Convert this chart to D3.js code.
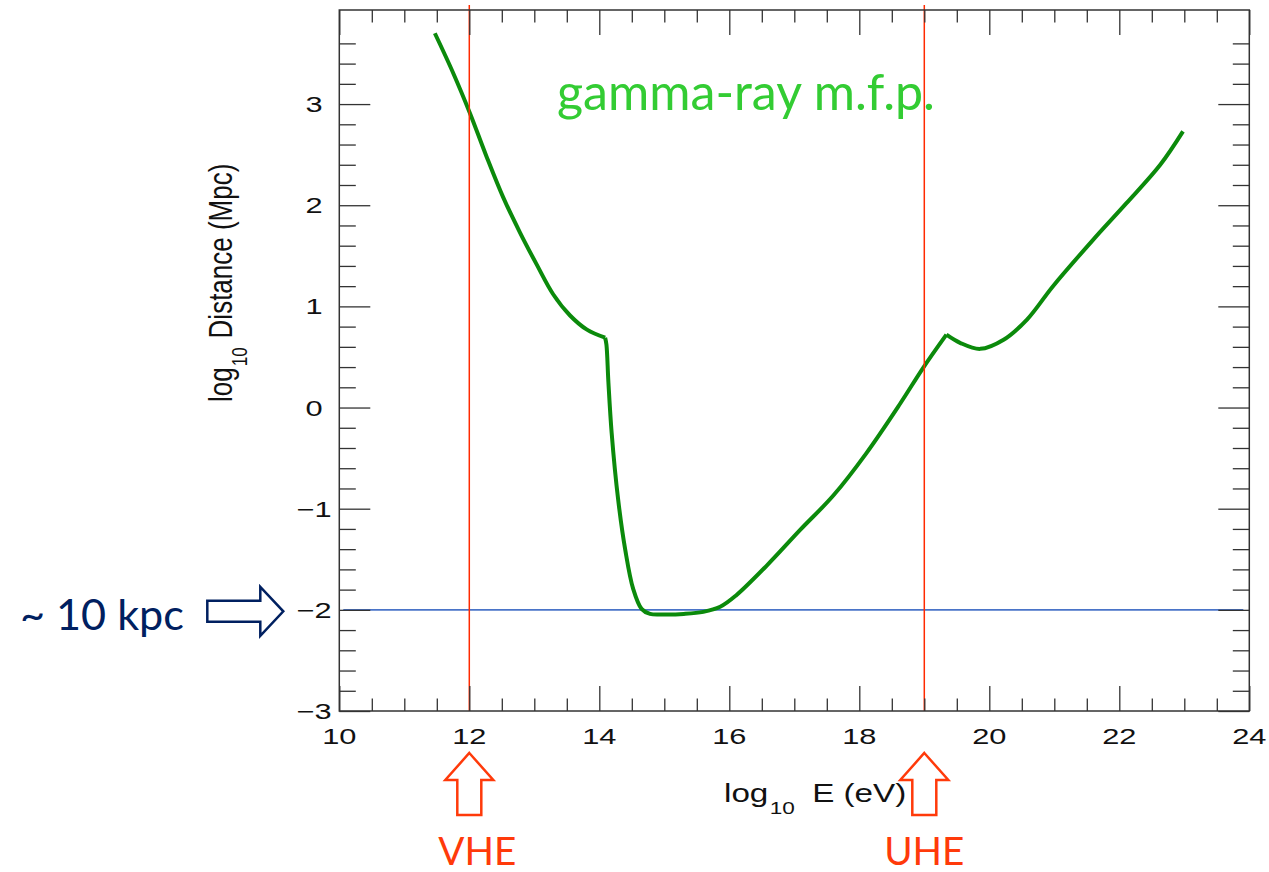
<!DOCTYPE html>
<html><head><meta charset="utf-8">
<script src="https://cdn.jsdelivr.net/npm/d3@7"></script>
<style>body{margin:0;background:#fff}svg{display:block}</style>
</head><body>
<svg id="c" width="1269" height="872"></svg>
<script>
// ---- data ----
const seg1E = [11.47, 11.75, 12.01, 12.26, 12.52, 12.78, 13.04, 13.29, 13.55, 13.81, 14.09];
const seg1D = [3.70, 3.31, 2.91, 2.49, 2.08, 1.73, 1.41, 1.12, 0.91, 0.77, 0.69];
const seg2E = [14.09, 14.11, 14.14, 14.19, 14.29, 14.40, 14.52, 14.65, 14.78, 15.00, 15.30, 15.60, 15.86, 16.10, 16.58, 17.09, 17.60, 18.11, 18.63, 18.98, 19.34];
const seg2D = [0.69, 0.62, 0.25, -0.25, -0.91, -1.41, -1.79, -1.99, -2.04, -2.045, -2.04, -2.02, -1.97, -1.86, -1.56, -1.21, -0.87, -0.45, 0.04, 0.39, 0.72];
const seg3E = [19.34, 19.55, 19.86, 20.22, 20.58, 20.98, 21.60, 22.11, 22.63, 22.98];
const seg3D = [0.72, 0.64, 0.58, 0.67, 0.87, 1.20, 1.66, 2.02, 2.40, 2.73];
const xMajor = [10, 12, 14, 16, 18, 20, 22, 24];
const xTickLabels = ["10", "12", "14", "16", "18", "20", "22", "24"];
const yMajor = [-3, -2, -1, 0, 1, 2, 3];
const yTickLabels = ["\u22123", "\u22122", "\u22121", "0", "1", "2", "3"];
const vLines = [12, 19];
const vLineLabels = ["VHE", "UHE"];
const hLine = -2;
const hLineLabel = "~ 10 kpc";
const titleText = "gamma-ray m.f.p.";

const xMinor = d3.range(10.5, 24, 0.5).filter(v => v % 2 !== 0);
const yMinor = d3.range(-2.8, 3.7, 0.2).map(v => +v.toFixed(1)).filter(v => Math.abs(v - Math.round(v)) > 1e-6);

// ---- layout ----
const svg = d3.select("#c");
const L = 339.3, R = 1249.3, T = 10, B = 711;
const x = d3.scaleLinear([10, 24], [L, R]);
const y = d3.scaleLinear([-3, 3.93], [B, T]);
const axisFont = "'Liberation Sans', Arial, sans-serif";
const calFont = "Lato, 'Open Sans', sans-serif";

// horizontal reference line
svg.append("line")
  .attr("x1", L + 4).attr("x2", R - 6)
  .attr("y1", y(hLine)).attr("y2", y(hLine))
  .attr("stroke", "#4a74c8").attr("stroke-width", 1.6);

// curve
const line = d3.line().x(d => x(d[0])).y(d => y(d[1])).curve(d3.curveCatmullRom.alpha(0.5));
[[seg1E, seg1D], [seg2E, seg2D], [seg3E, seg3D]].forEach(([E, D]) => {
  svg.append("path")
    .attr("d", line(E.map((e, i) => [e, D[i]])))
    .attr("fill", "none").attr("stroke", "#0b8a0b")
    .attr("stroke-width", 4).attr("stroke-linejoin", "round").attr("stroke-linecap", "butt");
});

// vertical red lines
svg.selectAll(".vl").data(vLines).enter().append("line")
  .attr("x1", d => x(d)).attr("x2", d => x(d))
  .attr("y1", 5).attr("y2", B)
  .attr("stroke", "#ff2a00").attr("stroke-width", 1.5);

// frame
svg.append("rect").attr("x", L).attr("y", T).attr("width", R - L).attr("height", B - T)
  .attr("fill", "none").attr("stroke", "#333").attr("stroke-width", 1.5);

// ticks (inward, via d3 axes)
function axisG(gen, tx, ty) {
  const g = svg.append("g").attr("transform", `translate(${tx},${ty})`).call(gen);
  g.select(".domain").remove();
  g.selectAll(".tick line").attr("stroke", "#333").attr("stroke-width", 1.3);
  g.selectAll(".tick text").remove();
  return g;
}
axisG(d3.axisBottom(x).tickValues(xMajor).tickSize(-25).tickFormat(""), 0, B);
axisG(d3.axisBottom(x).tickValues(xMinor).tickSize(-12.5).tickFormat(""), 0, B);
axisG(d3.axisTop(x).tickValues(xMajor).tickSize(-25).tickFormat(""), 0, T);
axisG(d3.axisTop(x).tickValues(xMinor).tickSize(-12.5).tickFormat(""), 0, T);
axisG(d3.axisLeft(y).tickValues(yMajor).tickSize(-31).tickFormat(""), L, 0);
axisG(d3.axisLeft(y).tickValues(yMinor).tickSize(-16.5).tickFormat(""), L, 0);
axisG(d3.axisRight(y).tickValues(yMajor).tickSize(-31).tickFormat(""), R, 0);
axisG(d3.axisRight(y).tickValues(yMinor).tickSize(-16.5).tickFormat(""), R, 0);

// tick labels (horizontally stretched like the original)
const SX = 1.4;
svg.selectAll(".xl").data(xMajor).enter().append("text")
  .attr("transform", d => `translate(${x(d)},744) scale(${SX},1)`)
  .attr("text-anchor", "middle").attr("font-family", axisFont).attr("font-size", 22).attr("fill", "#111")
  .text((d, i) => xTickLabels[i]);
svg.selectAll(".yl").data(yMajor).enter().append("text")
  .attr("transform", d => `translate(314,${y(d) + 8}) scale(${SX},1)`)
  .attr("text-anchor", "middle").attr("font-family", axisFont).attr("font-size", 22).attr("fill", "#111")
  .text((d, i) => yTickLabels[i]);

// x axis title
const xt = svg.append("text")
  .attr("transform", `translate(724,802) scale(1.33,1)`)
  .attr("font-family", axisFont).attr("font-size", 25).attr("fill", "#111");
xt.append("tspan").text("log");
xt.append("tspan").attr("font-size", 17).attr("dy", 12).attr("dx", 1).text("10");
xt.append("tspan").attr("dy", -12).attr("dx", 13).text("E (eV)");

// y axis title
const yt = svg.append("text")
  .attr("transform", `translate(232,402) rotate(-90) scale(1,1.25)`)
  .attr("font-family", axisFont).attr("font-size", 26).attr("fill", "#111");
yt.append("tspan").text("log");
yt.append("tspan").attr("font-size", 17).attr("dy", 12).attr("dx", 1).text("10");
yt.append("tspan").attr("dy", -12).attr("dx", 9).text("Distance (Mpc)");

// fit helper for annotation text
function fit(sel, target) {
  const w = sel.node().getComputedTextLength();
  const fs = parseFloat(sel.attr("font-size"));
  sel.attr("font-size", fs * target / w);
  return fs * target / w;
}

// title
const tt = svg.append("text").attr("x", 557).attr("y", 110)
  .attr("font-family", calFont).attr("font-size", 50).attr("fill", "#33cc33").text(titleText);
fit(tt, 378);

// ~10 kpc label + arrow
const kt = svg.append("text").attr("x", 20).attr("y", 630)
  .attr("font-family", calFont).attr("font-size", 46).attr("fill", "#002060").text(hLineLabel);
fit(kt, 164);
const cy = y(hLine) + 1.5, tip = x(10) - 56;
const ra = d3.path();
ra.moveTo(tip - 76, cy - 10.5); ra.lineTo(tip - 23, cy - 10.5); ra.lineTo(tip - 23, cy - 24.5);
ra.lineTo(tip, cy); ra.lineTo(tip - 23, cy + 24.5); ra.lineTo(tip - 23, cy + 10.5);
ra.lineTo(tip - 76, cy + 10.5); ra.closePath();
svg.append("path").attr("d", ra.toString()).attr("fill", "#fff")
  .attr("stroke", "#002060").attr("stroke-width", 2.5).attr("stroke-linejoin", "miter");

// VHE / UHE arrows and labels
const redOrange = "#ff3a0a";
vLines.forEach((v, i) => {
  const cx = x(v);
  const p = d3.path();
  p.moveTo(cx, 753); p.lineTo(cx + 24, 780); p.lineTo(cx + 12, 780); p.lineTo(cx + 12, 815);
  p.lineTo(cx - 12, 815); p.lineTo(cx - 12, 780); p.lineTo(cx - 24, 780); p.closePath();
  svg.append("path").attr("d", p.toString()).attr("fill", "#fff")
    .attr("stroke", redOrange).attr("stroke-width", 2.5);
});
const vt = svg.append("text").attr("x", x(vLines[0]) + 8).attr("y", 865).attr("text-anchor", "middle")
  .attr("font-family", calFont).attr("font-size", 44).attr("fill", redOrange).text(vLineLabels[0]);
const fsV = fit(vt, 78);
svg.append("text").attr("x", x(vLines[1])).attr("y", 865).attr("text-anchor", "middle")
  .attr("font-family", calFont).attr("font-size", fsV).attr("fill", redOrange).text(vLineLabels[1]);
</script>
</body></html>
